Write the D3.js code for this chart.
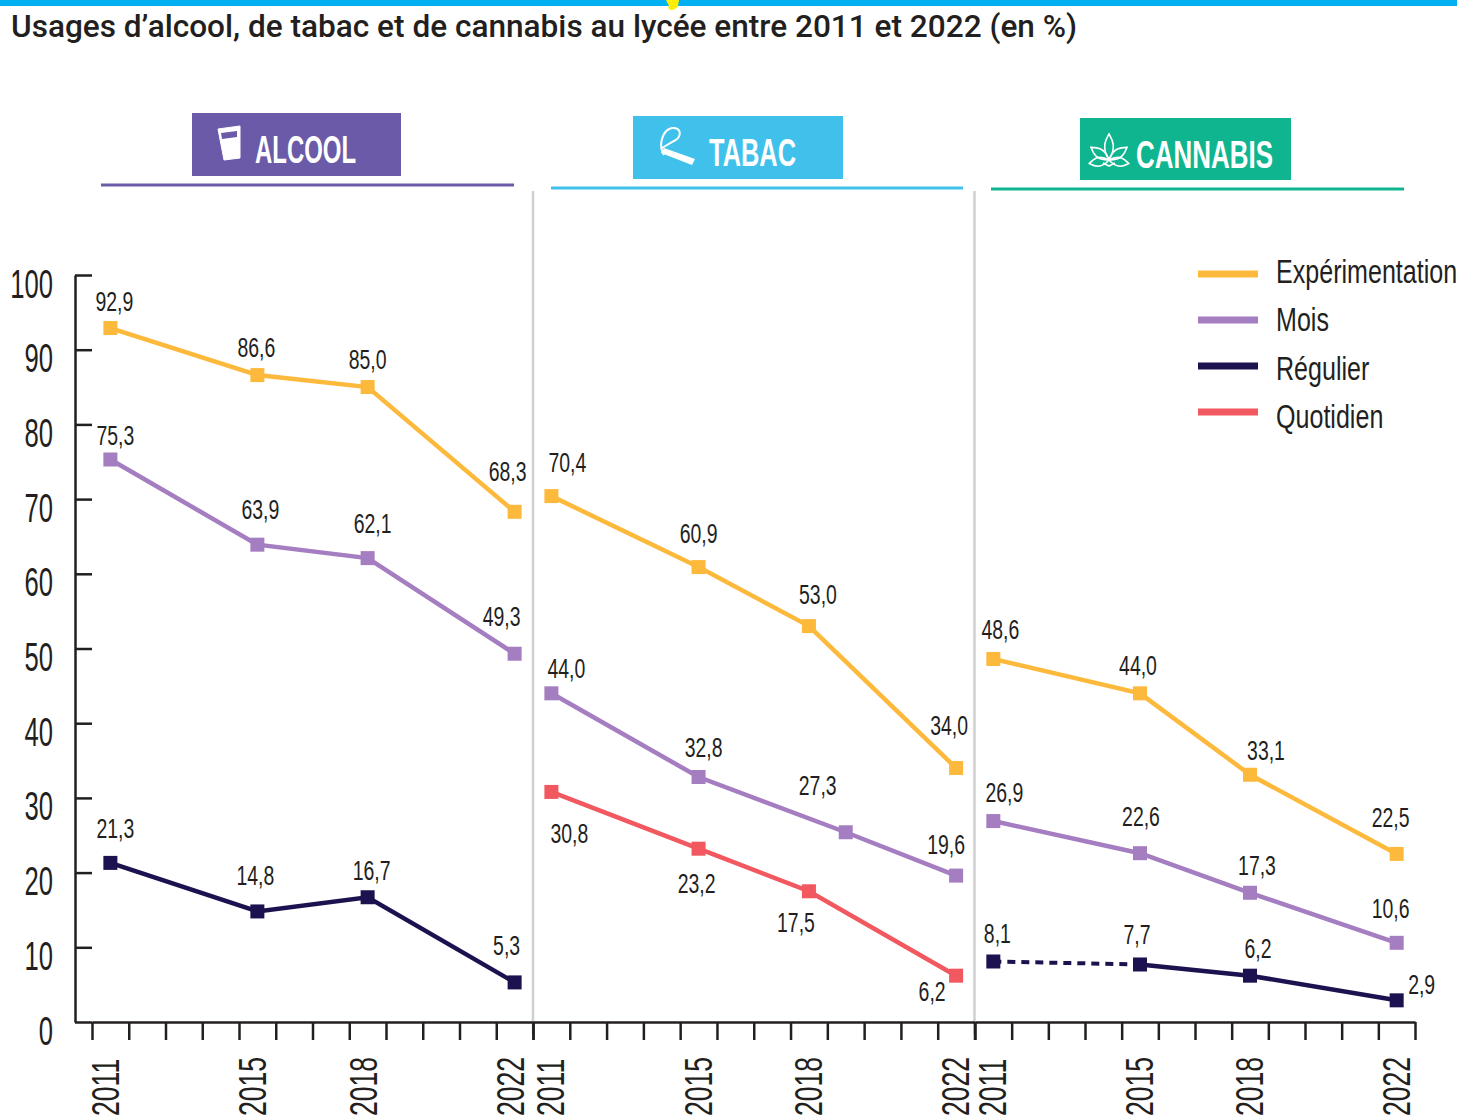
<!DOCTYPE html>
<html lang="fr">
<head>
<meta charset="utf-8">
<title>Usages d'alcool, de tabac et de cannabis au lycée</title>
<script src="https://cdn.jsdelivr.net/npm/d3@7"></script>
<style>
	html, body { margin: 0; padding: 0; background: #fff; overflow: hidden; }
	svg { display: block; }
	text { font-family: "Liberation Sans", sans-serif; fill: #231f20; }
</style>
</head>
<body>
<div id="graph"></div>
<script>
var titleText = "Usages d\u2019alcool, de tabac et de cannabis au lycée entre 2011 et 2022 (en %)";

var allYears = d3.range(2011, 2023);
var surveyYears = [2011, 2015, 2018, 2022];
var tabacMoisYears = [2011, 2015, 2019, 2022];
var yTicks = [0, 10, 20, 30, 40, 50, 60, 70, 80, 90, 100];

var seriesNames = ['Expérimentation', 'Mois', 'Régulier', 'Quotidien'];

var alcoolExperimentation = [92.9, 86.6, 85.0, 68.3];
var alcoolMois = [75.3, 63.9, 62.1, 49.3];
var alcoolRegulier = [21.3, 14.8, 16.7, 5.3];

var tabacExperimentation = [70.4, 60.9, 53.0, 34.0];
// the third point is printed 27,3 but sits lower on the picture
var tabacMois = [44.0, 32.8, 25.4, 19.6];
var tabacMoisPrinted = [44.0, 32.8, 27.3, 19.6];
var tabacQuotidien = [30.8, 23.2, 17.5, 6.2];

var cannabisExperimentation = [48.6, 44.0, 33.1, 22.5];
var cannabisMois = [26.9, 22.6, 17.3, 10.6];
var cannabisRegulier = [8.1, 7.7, 6.2, 2.9];


var width = 1457,
	height = 1118;

var colors = {
	'Expérimentation': '#fdb93c',
	'Mois': '#a57dc1',
	'Régulier': '#1c1250',
	'Quotidien': '#f2585f'
};

var frLabel = function(v) {
	return v.toFixed(1).replace('.', ',');
};

// Label offsets from the marker, by hand, same order as the values
var panels = [
	{
		name: 'ALCOOL', color: '#6a5aa8', range: [92, 533],
		box: [192, 113, 209, 63], rule: [101, 514, 185], textX: 255, textW: 101, tickShift: -4,
		series: [
			{ name: 'Expérimentation', years: surveyYears, values: alcoolExperimentation, dx: [4, -1, 0, -7], dy: [-27, -28, -28, -41] },
			{ name: 'Mois', years: surveyYears, values: alcoolMois, dx: [5, 3, 5, -13], dy: [-25, -36, -35, -38] },
			{ name: 'Régulier', years: surveyYears, values: alcoolRegulier, dx: [5, -2, 4, -8], dy: [-35, -36, -27, -37] }
		]
	},
	{
		name: 'TABAC', color: '#3fc1ec', range: [533, 974.5],
		box: [633, 116, 210, 63], rule: [551, 963, 188], textX: 709, textW: 87, tickShift: 0,
		series: [
			{ name: 'Expérimentation', years: surveyYears, values: tabacExperimentation, dx: [16, 0, 9, -7], dy: [-34, -34, -32, -43] },
			{ name: 'Mois', years: tabacMoisYears, values: tabacMois, printed: tabacMoisPrinted, dx: [15, 5, -28, -10], dy: [-25, -30, -47, -32] },
			{ name: 'Quotidien', years: surveyYears, values: tabacQuotidien, dx: [18, -2, -13, -24], dy: [41, 34, 31, 15] }
		]
	},
	{
		name: 'CANNABIS', color: '#0fb58e', range: [975, 1415],
		box: [1080, 118, 211, 62], rule: [991, 1404, 189], textX: 1136, textW: 137, tickShift: 0,
		series: [
			{ name: 'Expérimentation', years: surveyYears, values: cannabisExperimentation, dx: [7, -2, 16, -6], dy: [-30, -28, -25, -37] },
			{ name: 'Mois', years: surveyYears, values: cannabisMois, dx: [11, 1, 7, -6], dy: [-29, -37, -28, -35] },
			{ name: 'Régulier', years: surveyYears, values: cannabisRegulier, dx: [4, -3, 8, 25], dy: [-28, -30, -28, -16], dashedTo: 1 }
		]
	}
];


var svg = d3.select('#graph').append('svg')
	.attr('width', width)
	.attr('height', height);

var yScale = d3.scaleLinear()
	.domain([0, 100])
	.range([1022, 275]);


function drawHeader() {
	svg.append('rect')
		.attr('width', width)
		.attr('height', 6)
		.attr('fill', '#00b0f0');

	svg.append('path')
		.attr('d', 'M666 0 L679 0 L678 6 Q676 10 671 10 Q667 9 669 6 Z')
		.attr('fill', '#ffee00');

	svg.append('text')
		.attr('x', 11)
		.attr('y', 37)
		.attr('textLength', 1066)
		.attr('lengthAdjust', 'spacingAndGlyphs')
		.style('font-family', 'Roboto, sans-serif')
		.style('font-weight', 500)
		.style('font-size', '31px')
		.text(titleText);
}


function drawIcon(panel) {
	var g = svg.append('g');

	if(panel.name == 'ALCOOL') {
		g.append('path')
			.attr('d', 'M218 129 L240 126 L240 158 L224 160 Z')
			.attr('fill', '#fff')
			.attr('stroke', '#fff')
			.attr('stroke-width', 1);
		g.append('path')
			.attr('d', 'M221 133 L237 131 L237 137 L222 139 Z')
			.attr('fill', '#6a5aa8');
	}
	else if(panel.name == 'TABAC') {
		g.append('path')
			.attr('d', 'M664 155 C658 146 662 130 672 128 C682 127 682 137 674 141 L662 148')
			.attr('fill', 'none')
			.attr('stroke', '#fff')
			.attr('stroke-width', 2);
		g.append('path')
			.attr('d', 'M664 148 L695 159 L692 165 L661 153 Z')
			.attr('fill', '#fff');
	}
	else {
		var leaf = g.append('g')
			.attr('transform', 'translate(1109,160)')
			.attr('fill', 'none')
			.attr('stroke', '#fff')
			.attr('stroke-width', 1.6);
		[-100, -55, 0, 55, 100].forEach(function(a) {
			var len = a == 0 ? 26 : (Math.abs(a) == 55 ? 22 : 20);
			leaf.append('path')
				.attr('d', 'M0 0 C' + (-8) + ' ' + (-len * 0.5) + ' ' + (-3) + ' ' + (-len * 0.8) + ' 0 ' + (-len) + ' C3 ' + (-len * 0.8) + ' 8 ' + (-len * 0.5) + ' 0 0')
				.attr('transform', 'rotate(' + a + ')');
		});
		leaf.append('path')
			.attr('d', 'M-6 3 L0 6 L6 3');
	}
}


function drawPanelTitle(panel) {
	svg.append('rect')
		.attr('x', panel.box[0])
		.attr('y', panel.box[1])
		.attr('width', panel.box[2])
		.attr('height', panel.box[3])
		.attr('fill', panel.color);

	svg.append('line')
		.attr('x1', panel.rule[0])
		.attr('x2', panel.rule[1])
		.attr('y1', panel.rule[2])
		.attr('y2', panel.rule[2])
		.attr('stroke', panel.color)
		.attr('stroke-width', 3);

	svg.append('text')
		.attr('x', panel.textX)
		.attr('y', panel.box[1] + 50)
		.attr('textLength', panel.textW)
		.attr('lengthAdjust', 'spacingAndGlyphs')
		.style('font-size', '38px')
		.style('font-weight', 700)
		.style('fill', '#fff')
		.text(panel.name);

	drawIcon(panel);
}


function drawDividers() {
	[533, 974.5].forEach(function(x) {
		svg.append('line')
			.attr('x1', x)
			.attr('x2', x)
			.attr('y1', 191)
			.attr('y2', 1034)
			.attr('stroke', '#d0d0d0')
			.attr('stroke-width', 2.5);
	});
}


function drawYAxis() {
	var yAxis = d3.axisLeft(yScale)
		.tickValues(yTicks)
		.tickSizeInner(-17)
		.tickSizeOuter(0)
		.tickPadding(22)
		.tickFormat(d3.format('d'));

	var g = svg.append('g')
		.attr('class', 'yAxis')
		.attr('transform', 'translate(75,0)')
		.call(yAxis);

	g.selectAll('path, line')
		.attr('stroke', '#231f20')
		.attr('stroke-width', 2.5);

	g.selectAll('.tick text')
		.attr('x', null)
		.attr('dy', null)
		.attr('fill', null)
		.attr('transform', 'translate(-22,22) scale(0.64,1)')
		.style('font-size', '40px');
}


function drawPanel(panel) {
	var xEdge = d3.scaleLinear()
		.domain([2011, 2023])
		.range(panel.range);

	var xBand = d3.scaleBand()
		.domain(allYears)
		.range(panel.range);

	var xMid = function(year) {
		return xBand(year) + xBand.bandwidth() / 2;
	};

	// Tick lines fall between the years
	var xTicks = d3.axisBottom(xEdge)
		.tickValues(d3.range(2011, 2024))
		.tickSizeInner(18)
		.tickSizeOuter(0)
		.tickFormat('');

	var gTicks = svg.append('g')
		.attr('class', 'xAxis')
		.attr('transform', 'translate(0,1022)')
		.call(xTicks);

	gTicks.selectAll('path, line')
		.attr('stroke', '#231f20')
		.attr('stroke-width', 2.5);

	var xLabels = d3.axisBottom(xBand)
		.tickValues(surveyYears)
		.tickSize(0)
		.tickFormat(d3.format('d'));

	var gLabels = svg.append('g')
		.attr('transform', 'translate(0,1022)')
		.call(xLabels);

	gLabels.select('path').remove();

	gLabels.selectAll('.tick text')
		.attr('x', null)
		.attr('y', null)
		.attr('dy', null)
		.attr('fill', null)
		.attr('text-anchor', 'start')
		.attr('transform', 'translate(' + (panel.tickShift + 13) + ',94) rotate(-90) scale(0.7,1)')
		.style('font-size', '38px');

	panel.series.forEach(function(s) {
		var printed = s.printed || s.values;

		var points = s.values.map(function(v, i) {
			return { year: s.years[i], value: v, printed: printed[i], dx: s.dx[i], dy: s.dy[i] };
		});

		var line = d3.line()
			.x(function(d) { return xMid(d.year); })
			.y(function(d) { return yScale(d.value); });

		var dashedTo = s.dashedTo || 0;

		svg.append('path')
			.datum(points.slice(dashedTo))
			.attr('d', line)
			.attr('fill', 'none')
			.attr('stroke', colors[s.name])
			.attr('stroke-width', 4.5);

		if(dashedTo > 0) {
			svg.append('path')
				.datum(points.slice(0, dashedTo + 1))
				.attr('d', line)
				.attr('fill', 'none')
				.attr('stroke', colors[s.name])
				.attr('stroke-width', 4)
				.attr('stroke-dasharray', '8 6');
		}

		svg.selectAll(null)
			.data(points)
			.enter()
			.append('rect')
				.attr('x', function(d) { return xMid(d.year) - 7; })
				.attr('y', function(d) { return yScale(d.value) - 7; })
				.attr('width', 14)
				.attr('height', 14)
				.attr('fill', colors[s.name]);

		svg.selectAll(null)
			.data(points)
			.enter()
			.append('text')
				.attr('text-anchor', 'middle')
				.attr('transform', function(d) {
					return 'translate(' + (xMid(d.year) + d.dx) + ',' + (yScale(d.value) + d.dy + 10) + ') scale(0.72,1)';
				})
				.style('font-size', '27px')
				.text(function(d) { return frLabel(d.printed); });
	});
}


function drawLegend() {
	var legendY = d3.scalePoint()
		.domain(seriesNames)
		.range([274, 412]);

	var legendTextY = d3.scalePoint()
		.domain(seriesNames)
		.range([283, 428]);

	var items = svg.selectAll('.legend')
		.data(seriesNames)
		.enter()
		.append('g')
			.attr('class', 'legend');

	items.append('line')
		.attr('x1', 1198)
		.attr('x2', 1258)
		.attr('y1', function(d) { return legendY(d); })
		.attr('y2', function(d) { return legendY(d); })
		.attr('stroke', function(d) { return colors[d]; })
		.attr('stroke-width', 7);

	items.append('text')
		.attr('transform', function(d) {
			return 'translate(1276,' + legendTextY(d) + ') scale(0.76,1)';
		})
		.style('font-size', '33px')
		.text(function(d) { return d; });
}


drawHeader();
panels.forEach(drawPanelTitle);
drawDividers();
drawYAxis();
panels.forEach(drawPanel);
drawLegend();
</script>
</body>
</html>
